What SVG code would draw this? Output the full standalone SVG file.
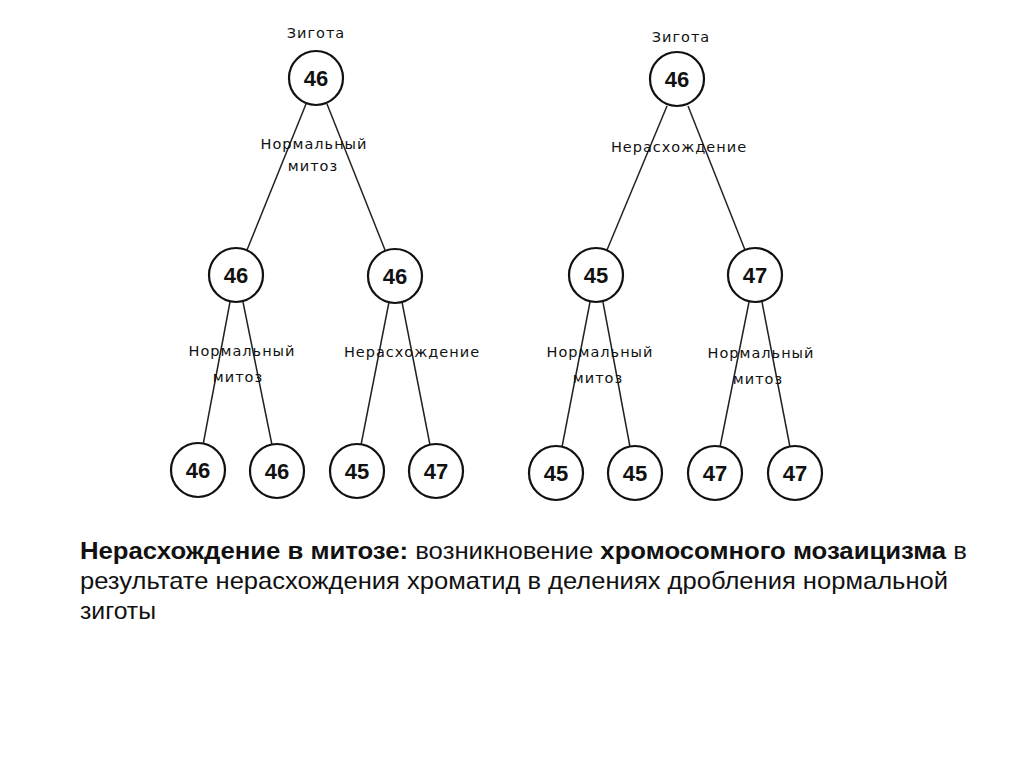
<svg xmlns="http://www.w3.org/2000/svg" width="1024" height="767" viewBox="0 0 1024 767">
<style>
.n circle{fill:#fff;stroke:#111;stroke-width:2.2}
.n text{font-family:"Liberation Sans",Arial,sans-serif;font-weight:bold;font-size:22px;fill:#111;text-anchor:middle}
.lbl{font-family:"DejaVu Sans",sans-serif;font-size:14.5px;fill:#111;text-anchor:middle;letter-spacing:1px}
#edges line{stroke:#222;stroke-width:1.5}
.cap{font-family:"Liberation Sans",Arial,sans-serif;font-size:24px;fill:#111}
.b{font-weight:bold}
</style>
<rect width="1024" height="767" fill="#fff"/>
<g id="edges">
<line x1="306" y1="104" x2="247" y2="250"/>
<line x1="327" y1="104" x2="385" y2="250"/>
<line x1="230" y1="302" x2="203" y2="445"/>
<line x1="243" y1="302" x2="272" y2="445"/>
<line x1="389" y1="302" x2="361" y2="445"/>
<line x1="402" y1="302" x2="430" y2="445"/>
<line x1="667" y1="106" x2="607" y2="250"/>
<line x1="688" y1="106" x2="745" y2="250"/>
<line x1="590" y1="302" x2="562" y2="447"/>
<line x1="603" y1="302" x2="630" y2="447"/>
<line x1="749" y1="302" x2="720" y2="447"/>
<line x1="762" y1="302" x2="790" y2="447"/>
</g>
<g id="labels">
<text class="lbl" x="316" y="38">Зигота</text>
<text class="lbl" x="314" y="149">Нормальный</text>
<text class="lbl" x="313" y="171">митоз</text>
<text class="lbl" x="242" y="356">Нормальный</text>
<text class="lbl" x="238" y="382">митоз</text>
<text class="lbl" x="412" y="357">Нерасхождение</text>
<text class="lbl" x="681" y="42">Зигота</text>
<text class="lbl" x="679" y="152">Нерасхождение</text>
<text class="lbl" x="600" y="357">Нормальный</text>
<text class="lbl" x="598" y="383">митоз</text>
<text class="lbl" x="761" y="358">Нормальный</text>
<text class="lbl" x="758" y="384">митоз</text>
</g>
<g id="L0" class="n"><circle cx="316" cy="78" r="27"/><text x="316" y="86">46</text></g>
<g id="L1a" class="n"><circle cx="236" cy="275" r="27"/><text x="236" y="283">46</text></g>
<g id="L1b" class="n"><circle cx="395" cy="276" r="27"/><text x="395" y="284">46</text></g>
<g id="L2a" class="n"><circle cx="198" cy="470" r="27"/><text x="198" y="478">46</text></g>
<g id="L2b" class="n"><circle cx="277" cy="471" r="27"/><text x="277" y="479">46</text></g>
<g id="L2c" class="n"><circle cx="357" cy="471" r="27"/><text x="357" y="479">45</text></g>
<g id="L2d" class="n"><circle cx="436" cy="471" r="27"/><text x="436" y="479">47</text></g>
<g id="R0" class="n"><circle cx="677" cy="79" r="27"/><text x="677" y="87">46</text></g>
<g id="R1a" class="n"><circle cx="596" cy="275" r="27"/><text x="596" y="283">45</text></g>
<g id="R1b" class="n"><circle cx="755" cy="275" r="27"/><text x="755" y="283">47</text></g>
<g id="R2a" class="n"><circle cx="556" cy="473" r="27"/><text x="556" y="481">45</text></g>
<g id="R2b" class="n"><circle cx="635" cy="473" r="27"/><text x="635" y="481">45</text></g>
<g id="R2c" class="n"><circle cx="715" cy="473" r="27"/><text x="715" y="481">47</text></g>
<g id="R2d" class="n"><circle cx="795" cy="473" r="27"/><text x="795" y="481">47</text></g>
<g id="caption">
<text class="cap" x="80" y="559" textLength="887" lengthAdjust="spacingAndGlyphs"><tspan class="b">Нерасхождение в митозе:</tspan> возникновение <tspan class="b">хромосомного мозаицизма</tspan> в</text>
<text class="cap" x="80" y="589" textLength="868" lengthAdjust="spacingAndGlyphs">результате нерасхождения хроматид в делениях дробления нормальной</text>
<text class="cap" x="80" y="619" textLength="76" lengthAdjust="spacingAndGlyphs">зиготы</text>
</g>
</svg>
